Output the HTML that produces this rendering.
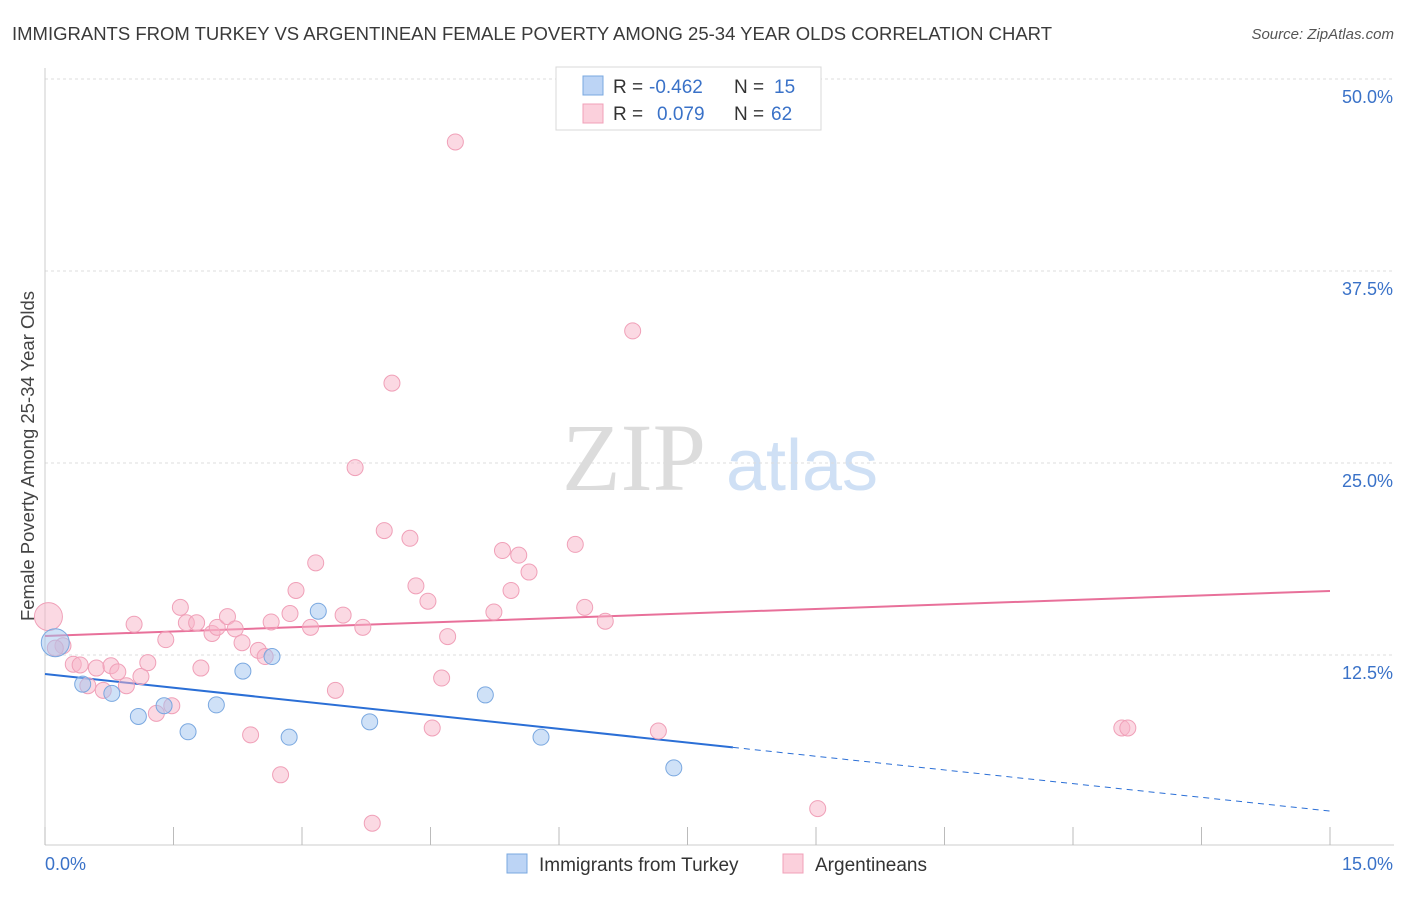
<!DOCTYPE html>
<html><head><meta charset="utf-8"><style>
body{margin:0;background:#fff;font-family:"Liberation Sans",sans-serif;}
</style></head><body>
<svg id="chart" width="1406" height="892" xmlns="http://www.w3.org/2000/svg" font-family="Liberation Sans, sans-serif">
<text x="12" y="40" font-size="18.5" fill="#3a3a3a">IMMIGRANTS FROM TURKEY VS ARGENTINEAN FEMALE POVERTY AMONG 25-34 YEAR OLDS CORRELATION CHART</text>
<text x="1394" y="39" font-size="15" fill="#555" text-anchor="end" font-style="italic">Source: ZipAtlas.com</text>
<g>
<text x="634" y="490" font-size="96" fill="#dcdcdc" text-anchor="middle" font-family="Liberation Serif, serif">ZIP</text>
<text x="802" y="490" font-size="72" fill="#cfe0f5" text-anchor="middle">atlas</text>
</g>
<g id="grid"></g>
<g id="axes"></g>
<g id="lines"></g>
<g id="points"></g>
<text transform="translate(34,456) rotate(-90)" font-size="18.5" fill="#444" text-anchor="middle">Female Poverty Among 25-34 Year Olds</text>
<g font-size="19">
<rect x="556" y="67" width="265" height="63" fill="#fff" stroke="#d8d8d8"/>
<rect x="583" y="76" width="20" height="19" fill="#bcd4f5" stroke="#7aa8e0"/>
<rect x="583" y="104" width="20" height="19" fill="#fbd0dc" stroke="#f0a0b8"/>
<text x="613" y="93" fill="#333">R =</text>
<text x="649" y="93" fill="#3a72c8">-0.462</text>
<text x="734" y="93" fill="#333">N =</text>
<text x="774" y="93" fill="#3a72c8">15</text>
<text x="613" y="120" fill="#333">R =</text>
<text x="657" y="120" fill="#3a72c8">0.079</text>
<text x="734" y="120" fill="#333">N =</text>
<text x="771" y="120" fill="#3a72c8">62</text>
</g>
<g>
<rect x="507" y="854" width="20" height="19" fill="#bcd4f5" stroke="#7aa8e0"/>
<text x="539" y="871" font-size="19" fill="#333">Immigrants from Turkey</text>
<rect x="783" y="854" width="20" height="19" fill="#fbd0dc" stroke="#f0a0b8"/>
<text x="815" y="871" font-size="19" fill="#333">Argentineans</text>
</g>
</svg>
<script>
const yTicks=[12.5,25,37.5,50];
const yTickLabels=["12.5%","25.0%","37.5%","50.0%"];
const xTicks=[0,1.5,3,4.5,6,7.5,9,10.5,12,13.5,15];
const xEndLabels=["0.0%","15.0%"];
const pinkX=[0.04,0.21,0.12,0.33,0.41,0.50,0.60,0.68,0.77,0.85,0.95,1.04,1.12,1.20,1.30,1.41,1.48,1.58,1.65,1.77,1.82,1.95,2.01,2.13,2.22,2.30,2.40,2.49,2.57,2.64,2.75,2.86,2.93,3.10,3.16,3.39,3.48,3.62,3.71,3.82,3.96,4.05,4.26,4.33,4.47,4.52,4.63,4.70,4.79,5.24,5.34,5.44,5.53,5.65,6.19,6.30,6.54,6.86,7.16,9.02,12.57,12.64];
const pinkY=[15.0,13.1,12.95,11.9,11.85,10.5,11.65,10.2,11.8,11.4,10.5,14.5,11.1,12.0,8.7,13.5,9.2,15.6,14.6,14.6,11.65,13.9,14.3,15.0,14.2,13.3,7.3,12.8,12.4,14.65,4.7,15.2,16.7,14.3,18.5,10.2,15.1,24.7,14.3,1.55,20.6,30.2,20.1,17.0,16.0,7.75,11.0,13.7,45.9,15.3,19.3,16.7,19.0,17.9,19.7,15.6,14.7,33.6,7.55,2.5,7.75,7.75];
const blueX=[0.12,0.44,0.78,1.09,1.39,1.67,2.00,2.31,2.65,2.85,3.19,3.79,5.14,5.79,7.34];
const blueY=[13.3,10.6,10.0,8.5,9.2,7.5,9.25,11.45,12.4,7.15,15.35,8.15,9.9,7.15,5.15];
const blueTrend=[11.26,2.34];
const pinkTrend=[13.74,16.67];
const blueSolidEnd=8.03;
const NS="http://www.w3.org/2000/svg";
const X=v=>45+v*(1285/15);
const Y=v=>847-v*15.36;
function mk(tag,attrs,parent){const e=document.createElementNS(NS,tag);for(const k in attrs)e.setAttribute(k,attrs[k]);document.getElementById(parent).appendChild(e);return e;}
yTicks.forEach((t,i)=>{
 const g=mk('line',{x1:45,x2:1394,y1:Y(t),y2:Y(t),stroke:'#dddddd','stroke-dasharray':'3,3'},'grid');
 
 
 const l=mk('text',{x:1393,y:Y(t)+24,'font-size':18,fill:'#3a72c8','text-anchor':'end'},'axes');
 l.textContent=yTickLabels[i];
 
 
});
const xa=mk('line',{x1:45,x2:1394,y1:845,y2:845,stroke:'#cccccc'},'axes');


const ya=mk('line',{x1:45,x2:45,y1:68,y2:845,stroke:'#cccccc'},'axes');


xTicks.forEach(t=>{
 const k=mk('line',{x1:X(t),x2:X(t),y1:827,y2:845,stroke:'#bbbbbb'},'axes');
 
 
});
const xl0=mk('text',{x:45,y:870,'font-size':18,fill:'#3a72c8'},'axes');xl0.textContent=xEndLabels[0];


const xl1=mk('text',{x:1393,y:870,'font-size':18,fill:'#3a72c8','text-anchor':'end'},'axes');xl1.textContent=xEndLabels[1];


pinkX.forEach((x,i)=>{
 const c=mk('circle',{cx:X(x),cy:Y(pinkY[i]),r:i===0?14:8,fill:'rgba(248,180,200,0.5)',stroke:'#f0a0b8','stroke-width':1},'points');
 
 
});
blueX.forEach((x,i)=>{
 const c=mk('circle',{cx:X(x),cy:Y(blueY[i]),r:i===0?14:8,fill:'rgba(160,195,240,0.5)',stroke:'#7aa8e0','stroke-width':1},'points');
 
 
});
const bAt=x=>blueTrend[0]+(blueTrend[1]-blueTrend[0])*x/15;
const b1=mk('line',{x1:X(0),y1:Y(bAt(0)),x2:X(blueSolidEnd),y2:Y(bAt(blueSolidEnd)),stroke:'#2b6fd6','stroke-width':2},'lines');


const b2=mk('line',{x1:X(blueSolidEnd),y1:Y(bAt(blueSolidEnd)),x2:X(15),y2:Y(bAt(15)),stroke:'#2b6fd6','stroke-width':1,'stroke-dasharray':'6,5'},'lines');


const p1=mk('line',{x1:X(0),y1:Y(pinkTrend[0]),x2:X(15),y2:Y(pinkTrend[1]),stroke:'#e8709a','stroke-width':2},'lines');


</script>
</body></html>
